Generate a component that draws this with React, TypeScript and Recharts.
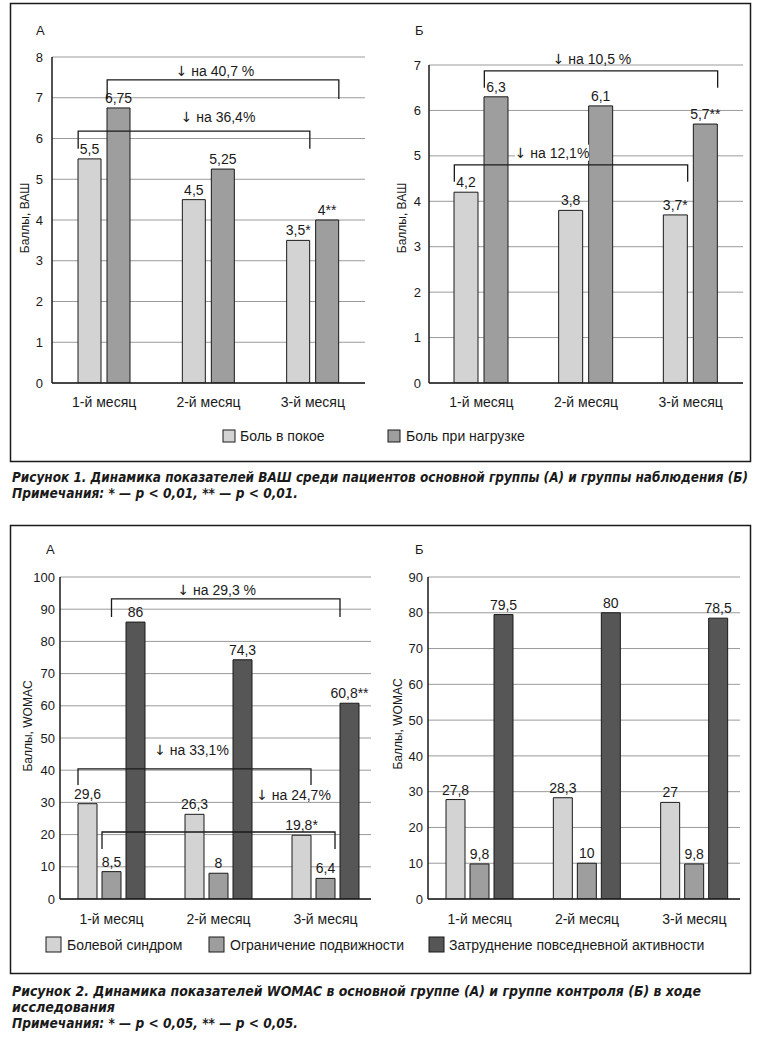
import React from 'react';
import {
  BarChart,
  Bar,
  XAxis,
  YAxis,
  CartesianGrid,
  LabelList,
  ReferenceLine,
} from 'recharts';

// ---------- data ----------
const months = ['1-й месяц', '2-й месяц', '3-й месяц'];

// Figure 1 (VAS)
const vasSeriesNames = ['Боль в покое', 'Боль при нагрузке'];
const vasRestA = [5.5, 4.5, 3.5];
const vasLoadA = [6.75, 5.25, 4];
const vasRestASig = ['', '', '*'];
const vasLoadASig = ['', '', '**'];
const vasTicksA = [0, 1, 2, 3, 4, 5, 6, 7, 8];

const vasRestB = [4.2, 3.8, 3.7];
const vasLoadB = [6.3, 6.1, 5.7];
const vasRestBSig = ['', '', '*'];
const vasLoadBSig = ['', '', '**'];
const vasTicksB = [0, 1, 2, 3, 4, 5, 6, 7];

// Figure 2 (WOMAC)
const womacSeriesNames = ['Болевой синдром', 'Ограничение подвижности', 'Затруднение повседневной активности'];
const womacPainA = [29.6, 26.3, 19.8];
const womacStiffA = [8.5, 8, 6.4];
const womacFuncA = [86, 74.3, 60.8];
const womacPainASig = ['', '', '*'];
const womacStiffASig = ['', '', ''];
const womacFuncASig = ['', '', '**'];
const womacTicksA = [0, 10, 20, 30, 40, 50, 60, 70, 80, 90, 100];

const womacPainB = [27.8, 28.3, 27];
const womacStiffB = [9.8, 10, 9.8];
const womacFuncB = [79.5, 80, 78.5];
const noSig = ['', '', ''];
const womacTicksB = [0, 10, 20, 30, 40, 50, 60, 70, 80, 90];

// comparison annotations: [category index, bar index, bar edge], heights in value units
const bracketsVasA = [
  { from: [0, 1, 'left'], to: [2, 1, 'right'], y: 7.44, legY: 6.97, text: 'на 40,7 %', textY: 7.66, textDx: -8, bg: false },
  { from: [0, 0, 'left'], to: [2, 0, 'right'], y: 6.18, legY: 5.75, text: 'на 36,4%', textY: 6.53, textDx: 24, bg: false },
];
const bracketsVasB = [
  { from: [0, 1, 'left'], to: [2, 1, 'right'], y: 6.87, legY: 6.5, text: 'на 10,5 %', textY: 7.14, textDx: -9, bg: false },
  { from: [0, 0, 'left'], to: [2, 0, 'right'], y: 4.8, legY: 4.43, text: 'на 12,1%', textY: 5.07, textDx: -19, bg: true },
];
const bracketsWomacA = [
  { from: [0, 1, 'center'], to: [2, 2, 'left'], y: 93.2, legY: 87.6, text: 'на 29,3 %', textY: 96, textDx: -9, bg: false },
  { from: [0, 0, 'left'], to: [2, 0, 'right'], y: 40.4, legY: 35.4, text: 'на 33,1%', textY: 46.3, textDx: -3, bg: false },
  { from: [0, 1, 'left'], to: [2, 1, 'right'], y: 20.8, legY: 15.5, text: 'на 24,7%', textY: 32.3, textDx: 75, bg: false },
];

// ---------- styles ----------
const FONT = "'Liberation Sans', Arial, sans-serif";
const ARROW_FONT = "'DejaVu Sans', 'Liberation Sans', sans-serif";
const CAP_FONT = "'Liberation Sans Narrow', 'DejaVu Sans Condensed', 'Liberation Sans', sans-serif";
const LIGHT = '#d3d3d3';
const MID = '#9e9e9e';
const DARK = '#565656';
const INK = '#1a1a1a';

const fmt = (v: number, s: string) => String(v).replace('.', ',') + s;

type Series = { values: number[]; sig: string[]; fill: string };
type Bracket = {
  from: [number, number, string];
  to: [number, number, string];
  y: number;
  legY: number;
  text: string;
  textY: number;
  textDx: number;
  bg: boolean;
};

type PanelProps = {
  left: number;
  top: number;
  width: number;
  height: number;
  margin: { top: number; right: number; bottom: number; left: number };
  yMax: number;
  ticks: number[];
  yTickSize: number;
  yTickMargin: number;
  xTickMargin: number;
  padL: number;
  padR: number;
  barSize: number;
  barGap: number;
  series: Series[];
  brackets: Bracket[];
};

// Draws a comparison bracket; x1/x2 are category centres, y1/y2 are the pixel heights
// of the bracket bar and the leg ends, supplied by the ReferenceLine's own scales.
const BracketShape = (props: any) => {
  const { x1, y1, x2, y2, spec, offFrom, offTo } = props;
  if (![x1, y1, x2, y2].every((v) => typeof v === 'number' && isFinite(v))) return null;
  const pxPerUnit = (y2 - y1) / (spec.legY - spec.y);
  const xa = x1 + offFrom;
  const xb = x2 + offTo;
  const ty = y1 + (spec.textY - spec.y) * pxPerUnit;
  const tx = (xa + xb) / 2 + spec.textDx;
  return (
    <g>
      <path d={`M${xa},${y2}V${y1}H${xb}V${y2}`} fill="none" stroke={INK} strokeWidth={1.3} />
      {spec.bg && <rect x={tx - 37} y={ty - 8} width={74} height={16} fill="#fff" />}
      <text x={tx} y={ty} textAnchor="middle" dominantBaseline="central" fontSize={14} fontFamily={FONT} fill={INK}>
        <tspan fontFamily={ARROW_FONT} fontSize={14}>↓</tspan>
        <tspan> {spec.text}</tspan>
      </text>
    </g>
  );
};

function Panel(p: PanelProps) {
  const Y_W = 30;
  const X_H = 30;
  const table = months.map((m, i) => {
    const row: any = { month: m };
    p.series.forEach((s, k) => {
      row['s' + k] = s.values[i];
      row['s' + k + 'Label'] = fmt(s.values[i], s.sig[i]);
    });
    return row;
  });
  const n = p.series.length;
  const groupW = n * p.barSize + (n - 1) * p.barGap;
  const offset = (spec: [number, number, string]) => {
    const [, bar, side] = spec;
    const sideOff = side === 'right' ? p.barSize : side === 'center' ? p.barSize / 2 : 0;
    return -groupW / 2 + bar * (p.barSize + p.barGap) + sideOff;
  };

  return (
    <div style={{ position: 'absolute', left: p.left, top: p.top, width: p.width, height: p.height, fontFamily: FONT }}>
      <BarChart
        width={p.width}
        height={p.height}
        data={table}
        margin={p.margin}
        barGap={p.barGap}
        accessibilityLayer={false}
      >
        <CartesianGrid vertical={false} stroke="#9a9a9a" strokeWidth={1} />
        <XAxis
          dataKey="month"
          height={X_H}
          tickLine={false}
          axisLine={{ stroke: INK, strokeWidth: 1.5 }}
          tick={{ fontSize: 14, fill: INK, fontFamily: FONT }}
          tickSize={6}
          tickMargin={p.xTickMargin}
          interval={0}
          padding={{ left: p.padL, right: p.padR }}
        />
        <YAxis
          width={Y_W}
          domain={[0, p.yMax]}
          ticks={p.ticks}
          interval={0}
          allowDataOverflow
          tickLine={false}
          axisLine={{ stroke: INK, strokeWidth: 1.5 }}
          tick={{ fontSize: 13, fill: INK, fontFamily: FONT }}
          tickSize={p.yTickSize}
          tickMargin={p.yTickMargin}
        />
        {p.series.map((s, k) => (
          <Bar
            key={k}
            dataKey={'s' + k}
            fill={s.fill}
            stroke={INK}
            strokeWidth={1}
            barSize={p.barSize}
            isAnimationActive={false}
          >
            <LabelList
              dataKey={'s' + k + 'Label'}
              position="top"
              offset={5}
              fontSize={14}
              fill={INK}
              fontFamily={FONT}
            />
          </Bar>
        ))}
        {p.brackets.map((b, i) => (
          <ReferenceLine
            key={i}
            segment={[
              { x: months[b.from[0]], y: b.y },
              { x: months[b.to[0]], y: b.legY },
            ]}
            ifOverflow="visible"
            shape={(sp: any) => (
              <BracketShape {...sp} spec={b} offFrom={offset(b.from)} offTo={offset(b.to)} />
            )}
          />
        ))}
      </BarChart>
    </div>
  );
}

const RotLabel = ({ x, y, text }: { x: number; y: number; text: string }) => (
  <text
    x={x}
    y={y}
    transform={`rotate(-90 ${x} ${y})`}
    textAnchor="middle"
    dominantBaseline="central"
    fontSize={12}
    fontFamily={FONT}
    fill={INK}
  >
    {text}
  </text>
);

const LegendItem = ({ x, y, size, fill, text, tx, ty }: any) => (
  <g>
    <rect x={x} y={y} width={size} height={size} fill={fill} stroke={INK} strokeWidth={1} />
    <text x={tx} y={ty} fontSize={14} fontFamily={FONT} fill={INK}>
      {text}
    </text>
  </g>
);

const Caption = ({ x, y, w, text }: any) => (
  <text
    x={x}
    y={y}
    fontSize={13.5}
    fontFamily={CAP_FONT}
    fontWeight="bold"
    fontStyle="italic"
    fill={INK}
    textLength={w}
    lengthAdjust="spacingAndGlyphs"
  >
    {text}
  </text>
);

export default function App() {
  return (
    <div style={{ position: 'absolute', left: 0, top: 0, width: 757, height: 1038, background: '#fff', overflow: 'hidden' }}>
      <Panel
        left={0}
        top={0}
        width={380}
        height={460}
        margin={{ top: 57, right: 15, left: 22, bottom: 47 }}
        yMax={8}
        ticks={vasTicksA}
        yTickSize={6}
        yTickMargin={3}
        xTickMargin={8}
        padL={0}
        padR={0}
        barSize={23}
        barGap={6}
        series={[
          { values: vasRestA, sig: vasRestASig, fill: LIGHT },
          { values: vasLoadA, sig: vasLoadASig, fill: MID },
        ]}
        brackets={bracketsVasA as Bracket[]}
      />
      <Panel
        left={380}
        top={0}
        width={377}
        height={460}
        margin={{ top: 65, right: 14, left: 19, bottom: 47 }}
        yMax={7}
        ticks={vasTicksB}
        yTickSize={6}
        yTickMargin={2}
        xTickMargin={8}
        padL={0}
        padR={0}
        barSize={24}
        barGap={6}
        series={[
          { values: vasRestB, sig: vasRestBSig, fill: LIGHT },
          { values: vasLoadB, sig: vasLoadBSig, fill: MID },
        ]}
        brackets={bracketsVasB as Bracket[]}
      />
      <Panel
        left={0}
        top={520}
        width={380}
        height={460}
        margin={{ top: 57, right: 9, left: 30, bottom: 51 }}
        yMax={100}
        ticks={womacTicksA}
        yTickSize={3}
        yTickMargin={2}
        xTickMargin={9}
        padL={-2}
        padR={-8}
        barSize={19}
        barGap={5}
        series={[
          { values: womacPainA, sig: womacPainASig, fill: LIGHT },
          { values: womacStiffA, sig: womacStiffASig, fill: MID },
          { values: womacFuncA, sig: womacFuncASig, fill: DARK },
        ]}
        brackets={bracketsWomacA as Bracket[]}
      />
      <Panel
        left={380}
        top={520}
        width={377}
        height={460}
        margin={{ top: 57, right: 17, left: 18, bottom: 51 }}
        yMax={90}
        ticks={womacTicksB}
        yTickSize={3}
        yTickMargin={2}
        xTickMargin={9}
        padL={-2}
        padR={-8}
        barSize={19}
        barGap={5}
        series={[
          { values: womacPainB, sig: noSig, fill: LIGHT },
          { values: womacStiffB, sig: noSig, fill: MID },
          { values: womacFuncB, sig: noSig, fill: DARK },
        ]}
        brackets={[]}
      />
      <svg
        width={757}
        height={1038}
        style={{ position: 'absolute', left: 0, top: 0, pointerEvents: 'none' }}
      >
        <rect x={10.5} y={3.5} width={740} height={458} fill="none" stroke={INK} strokeWidth={1.5} />
        <rect x={10.5} y={525.5} width={740} height={448} fill="none" stroke={INK} strokeWidth={1.5} />

        <text x={36} y={35} fontSize={13} fontFamily={FONT} fill={INK}>А</text>
        <text x={415} y={35} fontSize={13} fontFamily={FONT} fill={INK}>Б</text>
        <text x={46} y={554} fontSize={13} fontFamily={FONT} fill={INK}>А</text>
        <text x={415} y={554} fontSize={13} fontFamily={FONT} fill={INK}>Б</text>

        <RotLabel x={25} y={218} text="Баллы, ВАШ" />
        <RotLabel x={402} y={218} text="Баллы, ВАШ" />
        <RotLabel x={28} y={726} text="Баллы, WOMAC" />
        <RotLabel x={398} y={724} text="Баллы, WOMAC" />

        <LegendItem x={223} y={430} size={12} fill={LIGHT} text={vasSeriesNames[0]} tx={240} ty={441} />
        <LegendItem x={388} y={430} size={12} fill={MID} text={vasSeriesNames[1]} tx={406} ty={441} />

        <LegendItem x={46} y={937} size={15} fill={LIGHT} text={womacSeriesNames[0]} tx={67} ty={950} />
        <LegendItem x={209} y={937} size={15} fill={MID} text={womacSeriesNames[1]} tx={230} ty={950} />
        <LegendItem x={429} y={937} size={15} fill={DARK} text={womacSeriesNames[2]} tx={449} ty={950} />

        <Caption x={12} y={482} w={736} text="Рисунок 1. Динамика показателей ВАШ среди пациентов основной группы (А) и группы наблюдения (Б)" />
        <Caption x={12} y={498} w={286} text="Примечания: * — p < 0,01, ** — p < 0,01." />
        <Caption x={12} y={996} w={689} text="Рисунок 2. Динамика показателей WOMAC в основной группе (А) и группе контроля (Б) в ходе" />
        <Caption x={12} y={1012} w={103} text="исследования" />
        <Caption x={12} y={1028} w={286} text="Примечания: * — p < 0,05, ** — p < 0,05." />
      </svg>
    </div>
  );
}
